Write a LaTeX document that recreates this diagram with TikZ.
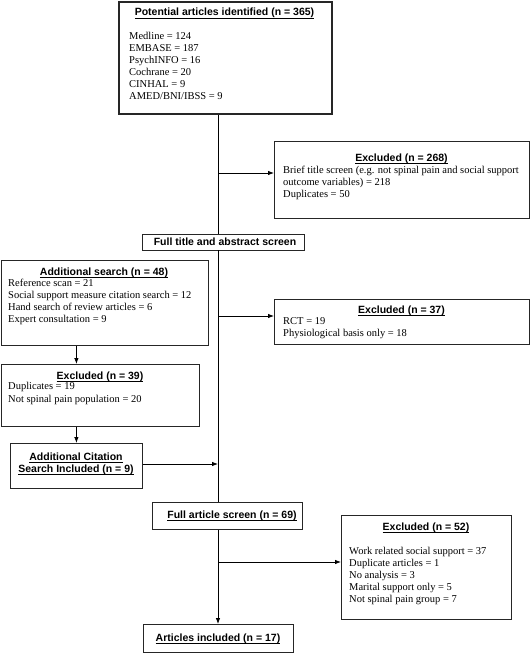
\documentclass[tikz,border=0pt]{standalone}
\usepackage{fontspec}
\setmainfont{Liberation Serif}
\setsansfont{Liberation Sans}
\usetikzlibrary{arrows.meta}
\newcommand{\ulhd}[1]{\underline{\smash{#1}\rule[-1pt]{0pt}{0pt}}}

\begin{document}
\begin{tikzpicture}[x=1pt,y=-1pt,>={Latex[length=6pt,width=4.5pt]},
        box/.style={draw=black!85, line width=0.8pt, fill=white, inner sep=0pt, anchor=north west},
        hd/.style={font=\sffamily\bfseries\fontsize{10.5}{12}\selectfont, anchor=base, inner sep=0pt},
        txt/.style={font=\fontsize{10.5}{12}\selectfont, anchor=base west, align=left, inner sep=0pt},
        link/.style={line width=0.8pt}]
        \useasboundingbox (0,0) rectangle (530,653);

        % boxes
        \node[box, line width=1.8pt, minimum width=213pt, minimum height=112pt] (pot) at (118,1) {};
        \node[box, minimum width=255pt, minimum height=77pt] (ex1) at (274,141) {};
        \node[box, minimum width=162pt, minimum height=16pt] (ftitle) at (142,233.5) {};
        \node[box, minimum width=207.5pt, minimum height=85pt] (addsrch) at (0.5,260) {};
        \node[box, minimum width=255pt, minimum height=45pt] (ex2) at (274,299) {};
        \node[box, minimum width=198.5pt, minimum height=62pt] (ex3) at (0.5,364) {};
        \node[box, minimum width=132pt, minimum height=45pt] (cit) at (10,443) {};
        \node[box, minimum width=150pt, minimum height=27pt] (fart) at (152,502) {};
        \node[box, minimum width=170pt, minimum height=104pt] (ex4) at (341,515) {};
        \node[box, minimum width=150pt, minimum height=28pt] (incl) at (143,624) {};

        % texts (multi-line nodes sit on their last line)
        \node[hd] (pot-h) at (224.5,16) {\ulhd{Potential articles identified (n = 365)}};
        \node[txt] (pot-t) at (129,99.5) {Medline = 124\\EMBASE = 187\\PsychINFO = 16\\Cochrane = 20\\CINHAL = 9\\AMED/BNI/IBSS = 9};
        \node[hd] (ex1-h) at (401.5,161) {\ulhd{Excluded (n = 268)}};
        \node[txt] (ex1-t) at (283,197) {Brief title screen (e.g. not spinal pain and social support\\outcome variables) = 218\\Duplicates = 50};
        \node[hd] (ftitle-h) at (225,245) {Full title and abstract screen};
        \node[hd] (addsrch-h) at (104,275) {\ulhd{Additional search (n = 48)}};
        \node[txt] (addsrch-t) at (8,322.5) {Reference scan = 21\\Social support measure citation search = 12\\Hand search of review articles = 6\\Expert consultation = 9};
        \node[hd] (ex2-h) at (401.5,313) {\ulhd{Excluded (n = 37)}};
        \node[txt] (ex2-t) at (283,336) {RCT = 19\\Physiological basis only = 18};
        \node[hd] (ex3-h) at (100,379) {\ulhd{Excluded (n = 39)}};
        \node[txt] (ex3-t) at (8,402) {Duplicates = 19\\[0.5pt]Not spinal pain population = 20};
        \node[hd, align=center] (cit-h) at (76,472) {\ulhd{Additional Citation}\\\ulhd{Search Included (n = 9)}};
        \node[hd] (fart-h) at (232,518) {\ulhd{Full article screen (n = 69)}};
        \node[hd] (ex4-h) at (426,530) {\ulhd{Excluded (n = 52)}};
        \node[txt] (ex4-t) at (349,602) {Work related social support = 37\\Duplicate articles = 1\\No analysis = 3\\Marital support only = 5\\Not spinal pain group = 7};
        \node[hd] (incl-h) at (218,641) {\ulhd{Articles included (n = 17)}};

        % connectors
        \coordinate (spine) at (218,0);
        \coordinate (j1) at (218,173);
        \coordinate (j2) at (218,316);
        \coordinate (j3) at (218,562);
        \coordinate (j4) at (218,464);
        \draw[link] (pot.south -| spine) -- (ftitle.north -| spine);
        \draw[link] (ftitle.south -| spine) -- (fart.north -| spine);
        \draw[link,->] (fart.south -| spine) -- (incl.north -| spine);
        \draw[link,->] (j1) -- (j1 -| ex1.west);
        \draw[link,->] (j2) -- (j2 -| ex2.west);
        \draw[link,->] (j3) -- (j3 -| ex4.west);
        \draw[link,->] (addsrch.south -| cit.north) -- (ex3.north -| cit.north);
        \draw[link,->] (ex3.south -| cit.north) -- (cit.north);
        \draw[link,->] (j4 -| cit.east) -- (j4);
\end{tikzpicture}
\end{document}
